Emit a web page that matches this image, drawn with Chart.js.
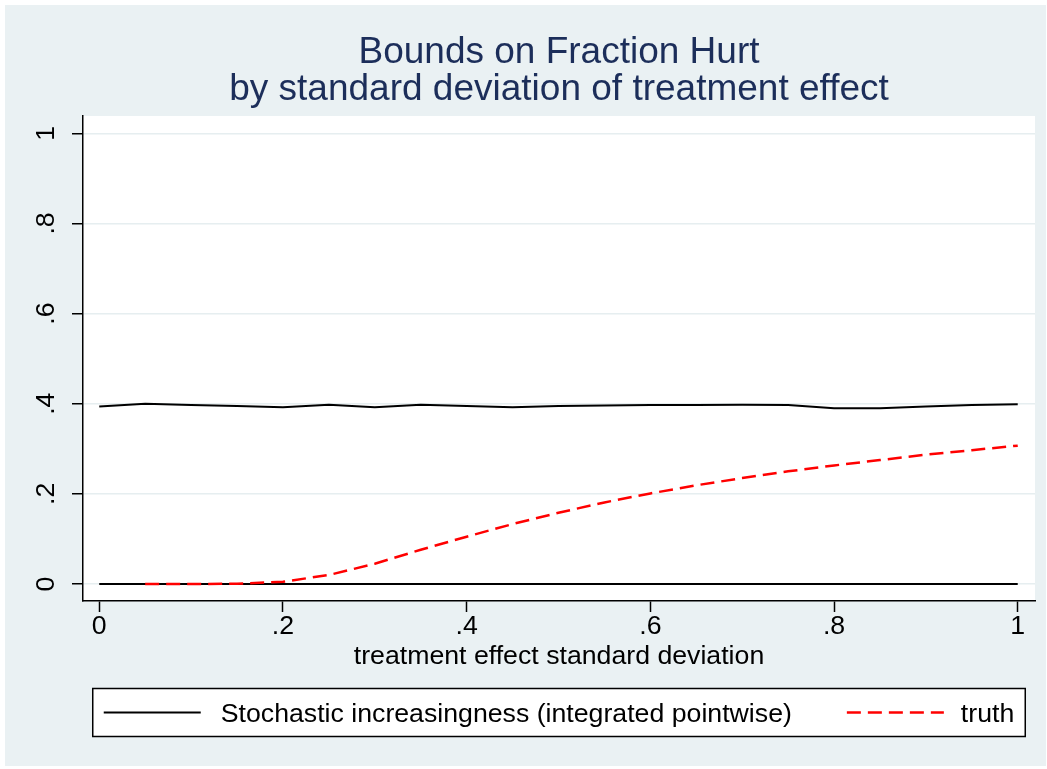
<!DOCTYPE html>
<html>
<head>
<meta charset="utf-8">
<title>Bounds on Fraction Hurt</title>
<script src="https://cdn.jsdelivr.net/npm/chart.js@4.4.1/dist/chart.umd.min.js"></script>
<style>
  html, body { margin: 0; padding: 0; background: #ffffff; }
  #wrap { width: 1047px; height: 769px; }
</style>
</head>
<body>
<div id="wrap"><canvas id="chart" width="1047" height="769"></canvas></div>
<script>
// Valores (grade de desvio-padrão de 0 a 1, passo .05).
const sdGrid = [0, 0.05, 0.1, 0.15, 0.2, 0.25, 0.3, 0.35, 0.4, 0.45, 0.5,
                0.55, 0.6, 0.65, 0.7, 0.75, 0.8, 0.85, 0.9, 0.95, 1];
const upperBound = [0.394, 0.400, 0.397, 0.395, 0.392, 0.398, 0.392, 0.398, 0.395, 0.392, 0.395,
                    0.396, 0.397, 0.397, 0.398, 0.397, 0.390, 0.390, 0.394, 0.397, 0.399];
const lowerBound = [0, 0, 0, 0, 0, 0, 0, 0, 0, 0, 0,
                    0, 0, 0, 0, 0, 0, 0, 0, 0, 0];
// "truth" começa em .05
const truthGrid = [0.05, 0.1, 0.15, 0.2, 0.25, 0.3, 0.35, 0.4, 0.45, 0.5,
                   0.55, 0.6, 0.65, 0.7, 0.75, 0.8, 0.85, 0.9, 0.95, 1];
const truthValues = [0, 0, 0.0005, 0.005, 0.02, 0.045, 0.076, 0.105, 0.133, 0.158,
                     0.181, 0.201, 0.219, 0.235, 0.25, 0.263, 0.275, 0.287, 0.297, 0.307];

const tickValues = [0, 0.2, 0.4, 0.6, 0.8, 1];
const tickLabels = ["0", ".2", ".4", ".6", ".8", "1"];

const titleLines = ["Bounds on Fraction Hurt", "by standard deviation of treatment effect"];
const xAxisTitle = "treatment effect standard deviation";
const upperLabel = "Stochastic increasingness (integrated pointwise)";
const truthLabel = "truth";

// Cores no estilo s2color do Stata.
const BG = "#eaf1f3";
const TITLE_COLOR = "#1c2e5a";
const GRID_COLOR = "#e6eef0";
const RED = "#ff0000";
const FONT = "'Liberation Sans', Arial, sans-serif";
const TXT = 26.7;
const TRUTH_DASH = [14, 7];

const pts = (xs, ys) => xs.map((x, i) => ({ x, y: ys[i] }));
const tickLabel = (v) => {
  const i = tickValues.findIndex((t) => Math.abs(t - v) < 1e-9);
  return i < 0 ? "" : tickLabels[i];
};
const fixedTicks = (scale) => { scale.ticks = tickValues.map((value) => ({ value })); };

// Fundo: moldura azul-acinzentada e região do gráfico branca.
const backdrop = {
  id: "backdrop",
  beforeDraw(chart) {
    const { ctx, chartArea: a, width, height } = chart;
    ctx.save();
    ctx.fillStyle = "#ffffff";
    ctx.fillRect(0, 0, width, height);
    ctx.fillStyle = BG;
    ctx.fillRect(5, 5, width - 6, height - 8);
    ctx.fillStyle = "#ffffff";
    ctx.fillRect(a.left, a.top, a.right - a.left, a.bottom - a.top);
    ctx.restore();
  },
};

// Título centrado sobre a região do gráfico (não sobre o canvas).
const plotTitle = {
  id: "plotTitle",
  afterDraw(chart) {
    const { ctx, chartArea: a } = chart;
    const cx = (a.left + a.right) / 2;
    ctx.save();
    ctx.font = `37px ${FONT}`;
    ctx.fillStyle = TITLE_COLOR;
    ctx.textAlign = "center";
    ctx.textBaseline = "alphabetic";
    titleLines.forEach((t, i) => ctx.fillText(t, cx, 62.7 + i * 37.3));
    ctx.restore();
  },
};

// Legenda em caixa, como no Stata.
const boxLegend = {
  id: "boxLegend",
  afterDraw(chart) {
    const { ctx, chartArea: a } = chart;
    const up = chart.data.datasets[0];
    const tr = chart.data.datasets[2];
    ctx.save();
    ctx.font = `${TXT}px ${FONT}`;
    const w1 = ctx.measureText(up.label).width;
    const w2 = ctx.measureText(tr.label).width;
    const sample = 97, gapText = 20, gapItem = 55, gapText2 = 17;
    const content = sample + gapText + w1 + gapItem + sample + gapText2 + w2;
    const cx = (a.left + a.right) / 2;
    const x0 = cx - content / 2;
    const top = 688.5, h = 48, cy = top + h / 2;

    ctx.fillStyle = "#ffffff";
    ctx.fillRect(x0 - 11, top, content + 22, h);
    ctx.strokeStyle = "#000";
    ctx.lineWidth = 1.5;
    ctx.strokeRect(x0 - 11, top, content + 22, h);

    ctx.lineWidth = up.borderWidth;
    ctx.strokeStyle = up.borderColor;
    ctx.beginPath();
    ctx.moveTo(x0, cy);
    ctx.lineTo(x0 + sample, cy);
    ctx.stroke();

    ctx.fillStyle = "#000";
    ctx.textBaseline = "alphabetic";
    ctx.fillText(up.label, x0 + sample + gapText, cy + 9.5);

    const x1 = x0 + sample + gapText + w1 + gapItem;
    ctx.lineWidth = tr.borderWidth;
    ctx.strokeStyle = tr.borderColor;
    ctx.setLineDash(tr.borderDash);
    ctx.beginPath();
    ctx.moveTo(x1, cy);
    ctx.lineTo(x1 + sample, cy);
    ctx.stroke();
    ctx.setLineDash([]);

    ctx.fillText(tr.label, x1 + sample + gapText2, cy + 9.5);
    ctx.restore();
  },
};

new Chart(document.getElementById("chart"), {
  type: "line",
  data: {
    datasets: [
      {
        label: upperLabel,
        data: pts(sdGrid, upperBound),
        borderColor: "#000",
        borderWidth: 2,
        pointRadius: 0,
        tension: 0,
        order: 1,
      },
      {
        label: "",
        data: pts(sdGrid, lowerBound),
        borderColor: "#000",
        borderWidth: 2,
        pointRadius: 0,
        tension: 0,
        order: 1,
      },
      {
        label: truthLabel,
        data: pts(truthGrid, truthValues),
        borderColor: RED,
        borderWidth: 2.5,
        borderDash: TRUTH_DASH,
        pointRadius: 0,
        tension: 0,
        order: 0,
      },
    ],
  },
  options: {
    responsive: false,
    animation: false,
    devicePixelRatio: 1,
    layout: { padding: { top: 116, right: 12, bottom: 98, left: 0 } },
    plugins: {
      legend: { display: false },
      title: { display: false },
      tooltip: { enabled: false },
    },
    scales: {
      x: {
        type: "linear",
        min: -0.0177,
        max: 1.0188,
        afterBuildTicks: fixedTicks,
        afterFit: (s) => { s.height = 70; },
        border: { color: "#000", width: 1.5 },
        grid: { drawOnChartArea: false, tickColor: "#000", tickLength: 11, tickWidth: 1.5 },
        ticks: {
          color: "#000",
          font: { family: FONT, size: TXT, lineHeight: 1 },
          padding: 1,
          maxRotation: 0,
          autoSkip: false,
          callback: tickLabel,
        },
        title: {
          display: true,
          text: xAxisTitle,
          color: "#000",
          font: { family: FONT, size: TXT, lineHeight: 1 },
          padding: { top: 0, bottom: 1 },
        },
      },
      y: {
        type: "linear",
        min: -0.0377,
        max: 1.0384,
        afterBuildTicks: fixedTicks,
        afterFit: (s) => { s.width = 83; },
        border: { color: "#000", width: 1.5 },
        grid: { color: GRID_COLOR, lineWidth: 1.5, tickColor: "#000", tickLength: 11, tickWidth: 1.5 },
        ticks: {
          color: "#000",
          font: { family: FONT, size: TXT, lineHeight: 1 },
          minRotation: 90,
          maxRotation: 90,
          crossAlign: "center",
          padding: 14,
          autoSkip: false,
          callback: tickLabel,
        },
      },
    },
  },
  plugins: [backdrop, plotTitle, boxLegend],
});
</script>
</body>
</html>
